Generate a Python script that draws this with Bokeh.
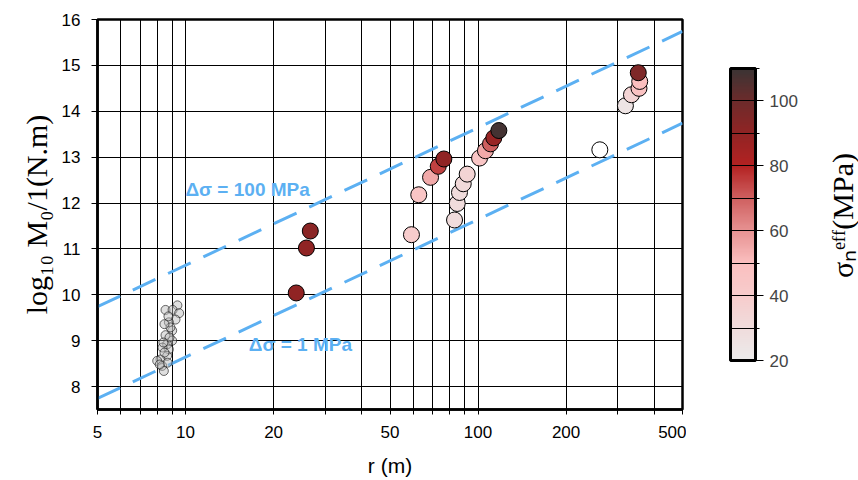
import numpy as np
from bokeh.plotting import figure
from bokeh.layouts import row
from bokeh.models import (ColumnDataSource, LinearColorMapper, ColorBar,
                          FixedTicker, Label)
from bokeh.core.properties import value
from bokeh.embed import file_html
from bokeh.resources import INLINE

# ---------------- data ----------------
# large events: radius (m), log10 M0, effective normal stress (MPa)
r_big = [23.9, 25.9, 26.7, 59.2, 62.7, 68.8, 73.1, 76.4,
         83.1, 84.9, 86.4, 89.0, 91.8, 101.2, 106.0, 110.3, 113.2, 117.8,
         260.8, 319.0, 334.6, 355.0, 357.0, 353.0]
logm_big = [10.04, 11.02, 11.39, 11.31, 12.18, 12.56, 12.80, 12.96,
            11.63, 11.99, 12.23, 12.42, 12.63, 12.98, 13.14, 13.29, 13.42, 13.58,
            13.16, 14.12, 14.36, 14.50, 14.65, 14.84]
sigma_big = [90, 90, 92, 40, 45, 55, 75, 90,
             30, 30, 30, 32, 35, 45, 55, 70, 88, 108,
             15, 25, 35, 48, 50, 95]

# small events (lab-scale cluster)
r_small = [9.38, 8.54, 9.03, 9.51, 9.24, 8.77, 9.00, 8.54, 9.00, 8.65,
           8.77, 8.34, 8.65, 8.21, 8.00, 8.32, 8.43, 8.47, 8.81, 8.40,
           8.88, 8.68, 8.16, 8.74, 8.47]
logm_small = [9.77, 9.67, 9.67, 9.60, 9.46, 9.40, 9.22, 9.12, 9.00, 8.92,
              8.81, 8.85, 8.67, 8.59, 8.56, 8.45, 8.34, 8.74, 9.07, 8.96,
              9.29, 8.52, 8.48, 9.53, 9.36]

# constant stress-drop reference lines
r_line = [5, 500]
logm_100mpa = [9.74, 15.74]
logm_1mpa = [7.74, 13.74]

x_ticks = [5, 6, 7, 8, 9, 10, 20, 30, 40, 50, 60, 70, 80, 90, 100, 200, 300, 400, 500]
x_labeled = {5: "5", 10: "10", 20: "20", 50: "50", 100: "100", 200: "200", 500: "500"}
y_ticks = [8, 9, 10, 11, 12, 13, 14, 15, 16]
cb_ticks = [20, 40, 60, 80, 100]
cb_minor = [30, 50, 70, 90, 110]
cb_title = "σₙᵉᶠᶠ(MPa)"

# ---------------- colormap ----------------
stops_v = [20, 30, 40, 50, 60, 70, 80, 90, 100, 110]
stops_c = ["#ecebeb", "#f0dcdc", "#f7cccc", "#fbbfbf", "#e79292",
           "#cf6060", "#b42222", "#912424", "#6d2b2b", "#3b3434"]


def hex2rgb(h):
    return [int(h[i:i + 2], 16) for i in (1, 3, 5)]


rgb = np.array([hex2rgb(c) for c in stops_c], dtype=float)
vv = np.linspace(20, 110, 256)
palette = []
for v in vv:
    col = [np.interp(v, stops_v, rgb[:, k]) for k in range(3)]
    palette.append("#%02x%02x%02x" % tuple(int(round(c)) for c in col))

mapper = LinearColorMapper(palette=palette, low=20, high=110, low_color="#ffffff")

BT, BB = 19, 71   # shared top / bottom borders (row aligns them)

# ---------------- main figure ----------------
p = figure(x_axis_type="log", x_range=(5, 500), y_range=(7.5, 16),
           frame_width=585, frame_height=390,
           min_border_left=97, min_border_top=BT, min_border_right=4,
           min_border_bottom=BB,
           output_backend="svg", toolbar_location=None)
p.background_fill_color = "white"
p.border_fill_color = "white"
p.outline_line_color = "black"
p.outline_line_width = 2.5
p.outline_line_alpha = 1.0

p.xaxis.ticker = FixedTicker(ticks=x_ticks, minor_ticks=[])
p.xaxis.major_label_overrides = {t: x_labeled.get(t, "") for t in x_ticks}
p.yaxis.ticker = FixedTicker(ticks=y_ticks, minor_ticks=[])

for ax in (p.xaxis[0], p.yaxis[0]):
    ax.axis_line_width = 2.5
    ax.axis_line_color = "black"
    ax.major_tick_in = 0
    ax.major_tick_line_color = "black"
    ax.major_tick_line_width = 1
    ax.minor_tick_line_color = None
    ax.major_label_text_font = "Liberation Sans"
    ax.major_label_text_font_size = "17px"
    ax.major_label_text_color = "black"
    ax.axis_label_text_font_style = "normal"
    ax.axis_label_text_color = "black"

p.xaxis.major_tick_out = 5
p.yaxis.major_tick_out = 6

p.xaxis.axis_label = "r (m)"
p.xaxis.axis_label_text_font = "Liberation Sans"
p.xaxis.axis_label_text_font_size = "21px"
p.xaxis.major_label_standoff = 11
p.xaxis.axis_label_standoff = 13

p.yaxis.axis_label = "log₁₀ M₀/1(N.m)"
p.yaxis.axis_label_text_font = "Liberation Serif"
p.yaxis.axis_label_text_font_size = "30px"
p.yaxis.major_label_standoff = 11
p.yaxis.axis_label_standoff = 6

p.xgrid.ticker = FixedTicker(ticks=x_ticks, minor_ticks=[])
p.ygrid.ticker = FixedTicker(ticks=y_ticks, minor_ticks=[])
for g in (p.xgrid[0], p.ygrid[0]):
    g.grid_line_color = "black"
    g.grid_line_width = 1
    g.grid_line_alpha = 1.0

blue = "#5cb0f2"
p.line(r_line, logm_100mpa, line_color=blue, line_width=3, line_dash="25 14")
p.line(r_line, logm_1mpa, line_color=blue, line_width=3, line_dash="25 14")

src_small = ColumnDataSource(dict(r=r_small, m=logm_small))
p.scatter("r", "m", source=src_small, size=9, fill_color="#b8b8b8",
          fill_alpha=0.45, line_color="#1a1a1a", line_alpha=0.65, line_width=1)

src_big = ColumnDataSource(dict(r=r_big, m=logm_big, s=sigma_big))
p.scatter("r", "m", source=src_big, size=16,
          fill_color={"field": "s", "transform": mapper},
          line_color="black", line_width=1)

p.add_layout(Label(x=16.3, y=12.29, text="Δσ = 100 MPa", text_align="center",
                   text_baseline="middle", text_font="Liberation Sans",
                   text_font_size="19px", text_font_style="bold", text_color=blue))
p.add_layout(Label(x=24.7, y=8.92, text="Δσ = 1 MPa", text_align="center",
                   text_baseline="middle", text_font="Liberation Sans",
                   text_font_size="19px", text_font_style="bold", text_color=blue))

# ---------------- colour bar panel ----------------
# p2 frame spans the same 390 px as the main frame; data units = pixels
pw = 172
fh = 390
p2 = figure(width=pw, height=BT + fh + BB, x_range=(0, pw), y_range=(0, fh),
            min_border_left=0, min_border_top=BT, min_border_right=0,
            min_border_bottom=BB, title=None,
            x_axis_location=None, y_axis_location=None,
            output_backend="svg", toolbar_location=None)
p2.grid.visible = False
p2.outline_line_color = None
p2.background_fill_color = "white"
p2.border_fill_color = "white"

cb = ColorBar(color_mapper=mapper, ticker=FixedTicker(ticks=cb_ticks, minor_ticks=cb_minor),
              width=25, height=292, location=(44, 49), margin=0, padding=0,
              bar_line_color="black", bar_line_width=3,
              major_tick_in=25, major_tick_out=8, minor_tick_in=25, minor_tick_out=4,
              major_tick_line_color="black", minor_tick_line_color="black",
              major_label_text_font="Liberation Sans", major_label_text_font_size="17px",
              label_standoff=6, border_line_color=None, background_fill_color=None)
p2.add_layout(cb, "center")

p2.text(x=[156], y=[194], text=[cb_title], angle=np.pi / 2,
        text_align="center", text_baseline="middle",
        text_font=value("Liberation Serif"), text_font_size="30px",
        text_color="black")

layout = row(p, p2, spacing=0)
open("out.html", "w").write(file_html(layout, INLINE))
